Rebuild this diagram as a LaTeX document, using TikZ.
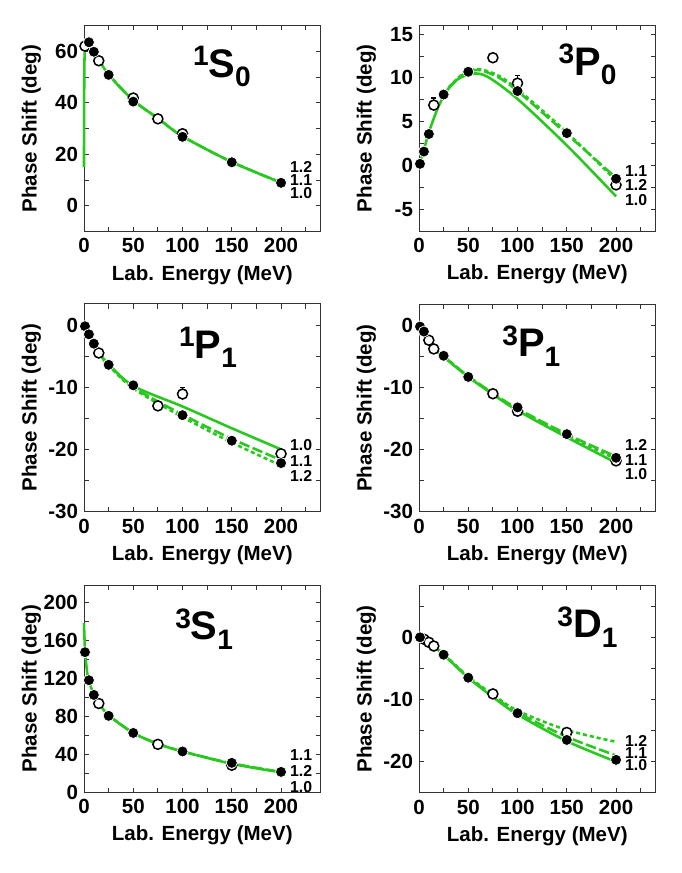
\documentclass[tikz,border=0pt]{standalone}
\usepackage{fontspec}
\setsansfont{Liberation Sans}
\usepackage{tikz}

\definecolor{plotgreen}{RGB}{40,200,30}
\tikzset{
  frame/.style={draw=black!80,line width=0.7pt},
  ticklab/.style={font=\sffamily\bfseries\fontsize{17.5}{19}\selectfont,inner sep=1pt},
  curvelab/.style={font=\sffamily\bfseries\fontsize{13.5}{14}\selectfont,inner sep=0pt,anchor=west},
  axlab/.style={font=\sffamily\bfseries\fontsize{17.5}{19}\selectfont,inner sep=0pt},
  wavelab/.style={font=\sffamily\bfseries\fontsize{34}{36}\selectfont,inner sep=0pt},
  fdot/.style={circle,fill=black,draw=white,line width=0.6pt,minimum size=0.33cm,inner sep=0pt},
  odot/.style={circle,fill=white,draw=black,line width=1.3pt,minimum size=0.3cm,inner sep=0pt},
  solidc/.style={plotgreen,line width=2.2pt,smooth},
  dashc/.style={plotgreen,line width=2.2pt,smooth,dash pattern=on 9pt off 3pt},
  dotc/.style={plotgreen,line width=2.2pt,smooth,dash pattern=on 3.5pt off 2.5pt},
  errbar/.style={black,line width=1pt}
}
% one panel: x0 (px), y of zero (px), px per degree
\newcommand\phpanel[3]{\begin{scope}[xshift=#1*0.03cm,yshift=-#2*0.03cm,x=0.02955cm,y=#3*0.03cm]}
% frame, ticks and labels: ymin, ymax, tick list, label list
\newcommand\phaxes[4]{%
  \draw[frame] (0,#1) rectangle (240,#2);
  \foreach \e in {25,50,...,225} {\draw[frame] (\e,#1) -- ++(0,4pt); \draw[frame] (\e,#2) -- ++(0,-4pt);}
  \foreach \e in {0,50,...,200} \node[ticklab,anchor=north,yshift=-5pt] at (\e,#1) {\e};
  \foreach \v in {#3} {\draw[frame] (0,\v) -- ++(4pt,0); \draw[frame] (240,\v) -- ++(-4pt,0);}
  \foreach \v in {#4} \node[ticklab,anchor=east,xshift=-4pt] at (0,\v) {\v};
  \path (120,#1) ++(0,-37pt) node[axlab] {Lab. Energy (MeV)};
  \path (0,{(#1+#2)/2}) ++(-45pt,0) node[axlab,rotate=90] {Phase Shift (deg)};
}
\newcommand\wave[3]{{\fontsize{24}{24}\selectfont\raisebox{10pt}{#1}}#2{\fontsize{24}{24}\selectfont\raisebox{-8pt}{#3}}}

\begin{document}
\begin{tikzpicture}[x=0.03cm,y=-0.03cm]
\useasboundingbox (0,0) rectangle (682,873);

% 1S0
\phpanel{84}{205.7}{2.57}
\phaxes{-10}{70}{-10,0,...,70}{0,20,40,60}
\draw[solidc] plot coordinates {(0,15) (0.4,55) (2,62.5) (5,63) (10,60) (25,51) (50,41) (75,34) (100,27) (150,17) (200,9)};
\draw[dashc] plot coordinates {(25,51) (50,41) (75,34) (100,27) (150,17) (200,9)};
\foreach \e/\d [count=\i] in {1/62.1,15/56.4,50/41.9,75/33.8,100/28} \node[odot] (sa\i) at (\e,\d) {};
\foreach \e/\d [count=\i] in {5/63.6,10/59.9,25/50.9,50/40.5,100/26.8,150/16.9,200/8.9} \node[fdot] (sb\i) at (\e,\d) {};
\node[curvelab] (sl2) at (209,15) {1.2};
\node[curvelab] (sl1) at (209,10) {1.1};
\node[curvelab] (sl0) at (209,5) {1.0};
\node[wavelab] (sw) at (140,54) {\wave{1}{S}{0}};
\end{scope}

% 3P0
\phpanel{419}{165.6}{8.77}
\phaxes{-7.5}{16}{-7.5,-5,...,15}{-5,0,5,10,15}
\draw[solidc] plot coordinates {(0,0) (5,1.8) (10,3.8) (20,6.8) (30,8.8) (40,9.9) (55,10.5) (70,10.1) (100,7.6) (150,2.3) (200,-3.5)};
\draw[dashc] plot coordinates {(30,8.8) (45,10.4) (60,10.9) (80,10.1) (100,8.5) (150,3.6) (200,-1.4)};
\draw[dotc] plot coordinates {(30,8.9) (45,10.5) (60,11.0) (80,10.3) (100,8.7) (150,3.8) (200,-1.7)};
\draw[errbar] (15,6.2) -- (15,7.7) (12.5,7.7) -- (17.5,7.7);
\draw[errbar] (75,12) -- (75,12.7) (72.5,12.7) -- (77.5,12.7);
\draw[errbar] (100,8.8) -- (100,10.3) (97.5,10.3) -- (102.5,10.3);
\foreach \e/\d [count=\i] in {15/6.9,75/12.3,100/9.4,200/-2.2} \node[odot] (pa\i) at (\e,\d) {};
\foreach \e/\d [count=\i] in {1/0.2,5/1.6,10/3.6,25/8.1,50/10.7,100/8.5,150/3.7,200/-1.5} \node[fdot] (pb\i) at (\e,\d) {};
\node[curvelab] (pl1) at (209,-0.6) {1.1};
\node[curvelab] (pl2) at (209,-2.2) {1.2};
\node[curvelab] (pl0) at (209,-3.9) {1.0};
\node[wavelab] (pw) at (171,11.5) {\wave{3}{P}{0}};
\end{scope}

% 1P1
\phpanel{84}{325}{6.22}
\phaxes{-30}{3.4}{-30,-25,...,0}{-30,-20,-10,0}
\draw[solidc] plot coordinates {(15,-4.5) (25,-6.3) (50,-9.8) (100,-13.1) (150,-16.6) (200,-20)};
\draw[dashc] plot coordinates {(15,-4.5) (25,-6.4) (50,-10) (100,-14.4) (150,-18.3) (200,-21.7)};
\draw[dotc] plot coordinates {(15,-4.6) (25,-6.5) (50,-10.2) (100,-14.8) (150,-18.9) (200,-22.6)};
\draw[errbar] (100,-12.1) -- (100,-10.1) (97.5,-10.1) -- (102.5,-10.1);
\foreach \e/\d [count=\i] in {15/-4.5,75/-13,100/-11.1,200/-20.7} \node[odot] (qa\i) at (\e,\d) {};
\foreach \e/\d [count=\i] in {1/-0.2,5/-1.5,10/-3,25/-6.4,50/-9.7,100/-14.5,150/-18.6,200/-22.2} \node[fdot] (qb\i) at (\e,\d) {};
\node[curvelab] (ql0) at (209,-19.3) {1.0};
\node[curvelab] (ql1) at (209,-21.9) {1.1};
\node[curvelab] (ql2) at (209,-24.2) {1.2};
\node[wavelab] (qw) at (126,-3.6) {\wave{1}{P}{1}};
\end{scope}

% 3P1
\phpanel{419}{325.3}{6.22}
\phaxes{-30}{3.4}{-30,-25,...,0}{-30,-20,-10,0}
\draw[solidc] plot coordinates {(15,-3.8) (25,-5.1) (50,-8.3) (75,-11.1) (100,-13.7) (150,-18) (200,-22.1)};
\draw[dashc] plot coordinates {(15,-3.8) (25,-5) (50,-8.2) (75,-10.9) (100,-13.4) (150,-17.5) (200,-21.1)};
\draw[dotc] plot coordinates {(15,-3.8) (25,-5) (50,-8.2) (75,-11) (100,-13.5) (150,-17.7) (200,-21.5)};
\foreach \e/\d [count=\i] in {10/-2.4,15/-3.8,75/-11,100/-13.8,200/-21.8} \node[odot] (ra\i) at (\e,\d) {};
\foreach \e/\d [count=\i] in {1/-0.2,5/-1,25/-4.9,50/-8.3,100/-13.2,150/-17.5,200/-21.3} \node[fdot] (rb\i) at (\e,\d) {};
\node[curvelab] (rl2) at (209,-19.3) {1.2};
\node[curvelab] (rl1) at (209,-21.6) {1.1};
\node[curvelab] (rl0) at (209,-23.9) {1.0};
\node[wavelab] (rw) at (114,-3.3) {\wave{3}{P}{1}};
\end{scope}

% 3S1
\phpanel{84}{792.3}{0.95}
\phaxes{0}{218}{0,20,...,200}{0,40,80,120,160,200}
\draw[solidc] plot coordinates {(0,178) (1,150) (3,128) (5,117) (10,103) (15,94) (25,81) (50,62.5) (75,51) (100,43) (150,30) (200,21)};
\draw[dashc] plot coordinates {(25,81) (50,62.5) (75,51) (100,43) (150,30.5) (200,21.5)};
\foreach \e/\d [count=\i] in {15/93.5,75/50.5,150/28.5} \node[odot] (ta\i) at (\e,\d) {};
\foreach \e/\d [count=\i] in {1/147.5,5/118,10/102.5,25/80.5,50/62.5,100/43,150/31,200/21.5} \node[fdot] (tb\i) at (\e,\d) {};
\node[curvelab] (tl1) at (209,39) {1.1};
\node[curvelab] (tl2) at (209,22) {1.2};
\node[curvelab] (tl0) at (209,5.5) {1.0};
\node[wavelab] (tw) at (122,172) {\wave{3}{S}{1}};
\end{scope}

% 3D1
\phpanel{419}{637.3}{6.22}
\phaxes{-25}{8.4}{-25,-20,...,5}{-20,-10,0}
\draw[solidc] plot coordinates {(15,-1.4) (25,-2.8) (50,-6.5) (75,-9.6) (100,-12.4) (150,-16.7) (200,-20)};
\draw[dashc] plot coordinates {(15,-1.4) (25,-2.8) (50,-6.4) (75,-9.4) (100,-12.1) (150,-16) (200,-19)};
\draw[dotc] plot coordinates {(15,-1.4) (25,-2.7) (50,-6.3) (75,-9.2) (100,-11.8) (150,-14.9) (200,-16.8)};
\foreach \e/\d [count=\i] in {5/-0.3,10/-0.8,15/-1.4,75/-9.1,150/-15.3} \node[odot] (ua\i) at (\e,\d) {};
\foreach \e/\d [count=\i] in {1/0,25/-2.8,50/-6.5,100/-12.2,150/-16.5,200/-19.7} \node[fdot] (ub\i) at (\e,\d) {};
\node[curvelab] (ul2) at (209,-16.6) {1.2};
\node[curvelab] (ul1) at (209,-18.6) {1.1};
\node[curvelab] (ul0) at (209,-20.6) {1.0};
\node[wavelab] (uw) at (171,1.7) {\wave{3}{D}{1}};
\end{scope}
\end{tikzpicture}
\end{document}
